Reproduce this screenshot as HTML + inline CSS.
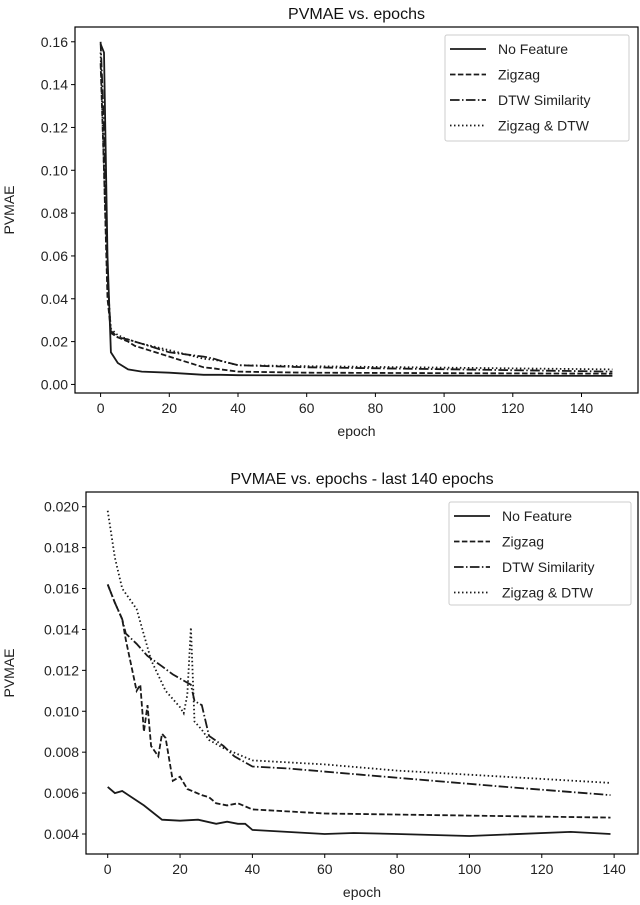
<!DOCTYPE html>
<html><head><meta charset="utf-8"><style>
body{margin:0;background:#fff;}
svg{display:block;font-family:"Liberation Sans","DejaVu Sans",sans-serif;}
</style></head><body>
<svg id="fig" width="640" height="905" viewBox="0 0 640 905" xmlns="http://www.w3.org/2000/svg"></svg>
<script>
// ---- Top chart data (all 150 epochs) ----
const topEpochs = [0,1,2,3,5,8,10,12,20,30,33,35,40,60,149];
const topNoFeature = [0.159,0.155,0.06,0.015,0.010,0.007,0.0065,0.006,0.0055,0.0045,0.0045,0.0045,0.0043,0.0042,0.0040];
const topZigzag = [0.150,0.100,0.040,0.025,0.022,0.020,0.018,0.017,0.013,0.008,0.0075,0.007,0.006,0.0055,0.005];
const topDTW = [0.160,0.120,0.050,0.024,0.022,0.021,0.020,0.019,0.015,0.013,0.012,0.011,0.009,0.008,0.006];
const topZigDTW = [0.155,0.100,0.045,0.026,0.023,0.021,0.020,0.019,0.016,0.012,0.0115,0.011,0.009,0.0085,0.007];
const topYTicks = ["0.00","0.02","0.04","0.06","0.08","0.10","0.12","0.14","0.16"];
const topXTicks = ["0","20","40","60","80","100","120","140"];

// ---- Bottom chart data (last 140 epochs) ----
const nfEpochs = [0,2,4,10,15,20,25,30,33,36,38,40,60,68,80,100,128,139];
const nfVals = [0.0063,0.0060,0.0061,0.0054,0.0047,0.00465,0.0047,0.0045,0.0046,0.0045,0.0045,0.0042,0.0040,0.00405,0.0040,0.0039,0.0041,0.0040];
const zzEpochs = [0,2,4,5,8,9,10,11,12,14,15,16,18,20,22,26,28,30,33,36,40,60,100,139];
const zzVals = [0.0162,0.0153,0.0145,0.0135,0.0110,0.0113,0.0090,0.0103,0.0083,0.0078,0.0089,0.0087,0.0066,0.0068,0.0062,0.0059,0.0058,0.0055,0.0054,0.0055,0.0052,0.0050,0.0049,0.0048];
const dtwEpochs = [0,2,4,5,8,11,15,18,21,23,24,26,28,32,35,40,50,70,90,110,139];
const dtwVals = [0.0162,0.0153,0.0145,0.0138,0.0133,0.0127,0.0122,0.0118,0.0115,0.0113,0.0105,0.0103,0.0088,0.0083,0.0078,0.0073,0.0072,0.0069,0.0066,0.0063,0.0059];
const zdEpochs = [0,2,4,8,12,16,20,21,22,23,24,26,28,32,40,60,80,100,139];
const zdVals = [0.0198,0.0175,0.0160,0.0150,0.0125,0.0110,0.0102,0.0099,0.0108,0.0141,0.0095,0.0091,0.0086,0.0082,0.0076,0.0074,0.0071,0.0069,0.0065];
const botYTicks = ["0.004","0.006","0.008","0.010","0.012","0.014","0.016","0.018","0.020"];
const botXTicks = ["0","20","40","60","80","100","120","140"];

const legendLabels = ["No Feature","Zigzag","DTW Similarity","Zigzag & DTW"];
const dashes = ["", "5.5,2.4", "9.6,2.4,1.5,2.4", "1.5,2.5"];
const NS = "http://www.w3.org/2000/svg";
const svg = document.getElementById('fig');
function mk(tag, attrs, parent){const e=document.createElementNS(NS,tag);for(const k in attrs)e.setAttribute(k,attrs[k]);(parent||svg).appendChild(e);return e;}

function chart(cfg){
  const g = mk('g',{});
  
  
  const X = v => cfg.L + (v - cfg.xmin)/(cfg.xmax-cfg.xmin)*(cfg.R-cfg.L);
  const Y = v => cfg.B - (v - cfg.ymin)/(cfg.ymax-cfg.ymin)*(cfg.B-cfg.T);
  const t = mk('text',{x:(cfg.L+cfg.R)/2,y:cfg.T-8,'text-anchor':'middle','font-size':'16',fill:'#111'},g);
  t.textContent = cfg.title;
  
  
  cfg.series.forEach((s,i)=>{
    const pts = s.x.map((xv,j)=>X(xv).toFixed(1)+','+Y(s.y[j]).toFixed(1)).join(' ');
    const p = mk('polyline',{points:pts,fill:'none',stroke:'#1a1a1a','stroke-width':'1.8','stroke-dasharray':dashes[i]||'none'},g);
    
    
  });
  mk('rect',{x:cfg.L,y:cfg.T,width:cfg.R-cfg.L,height:cfg.B-cfg.T,fill:'none',stroke:'#000','stroke-width':'1.2'},g);
  cfg.yticks.forEach(lbl=>{
    const v=parseFloat(lbl), y=Y(v);
    mk('line',{x1:cfg.L-4,x2:cfg.L,y1:y,y2:y,stroke:'#000'},g);
    const tt=mk('text',{x:cfg.L-7,y:y+5,'text-anchor':'end','font-size':'14',fill:'#222'},g);
    tt.textContent=lbl;
    
    
  });
  cfg.xticks.forEach(lbl=>{
    const v=parseFloat(lbl), x=X(v);
    mk('line',{x1:x,x2:x,y1:cfg.B,y2:cfg.B+4,stroke:'#000'},g);
    const tt=mk('text',{x:x,y:cfg.B+20,'text-anchor':'middle','font-size':'14',fill:'#222'},g);
    tt.textContent=lbl;
    
    
  });
  const xl=mk('text',{x:(cfg.L+cfg.R)/2,y:cfg.B+43,'text-anchor':'middle','font-size':'14',fill:'#222'},g);
  xl.textContent='epoch';
  
  
  const yl=mk('text',{x:0,y:0,'text-anchor':'middle','font-size':'14',fill:'#222',transform:'translate(14,'+((cfg.T+cfg.B)/2)+') rotate(-90)'},g);
  yl.textContent='PVMAE';
  
  
  const lg=mk('g',{},g);
  
  
  mk('rect',{x:cfg.lg[0],y:cfg.lg[1],width:cfg.lg[2],height:cfg.lg[3],rx:2,fill:'#fff',stroke:'#ccc'},lg);
  legendLabels.forEach((lbl,i)=>{
    const y=cfg.lg[1]+14+i*25.5;
    mk('line',{x1:cfg.lg[0]+5,x2:cfg.lg[0]+41,y1:y,y2:y,stroke:'#1a1a1a','stroke-width':'1.8','stroke-dasharray':dashes[i]||'none'},lg);
    const tt=mk('text',{x:cfg.lg[0]+53,y:y+5,'font-size':'14',fill:'#222'},lg);
    tt.textContent=lbl;
    
    
  });
}

chart({name:'top-chart',title:'PVMAE  vs. epochs',L:75,R:638,T:27,B:393,
  xmin:-7.45,xmax:156.45,ymin:-0.0040,ymax:0.1669,
  yticks:topYTicks,xticks:topXTicks,lg:[445,35,184,106],
  series:[{x:topEpochs,y:topNoFeature},{x:topEpochs,y:topZigzag},{x:topEpochs,y:topDTW},{x:topEpochs,y:topZigDTW}]});

chart({name:'bottom-chart',title:'PVMAE  vs. epochs - last 140 epochs',L:86,R:638,T:492,B:854,
  xmin:-6.0,xmax:146.6,ymin:0.004-0.002*(854-834)/40.9,ymax:0.020+0.002*(506.7-492)/40.9,
  yticks:botYTicks,xticks:botXTicks,lg:[449,502,182,103],
  series:[{x:nfEpochs,y:nfVals},{x:zzEpochs,y:zzVals},{x:dtwEpochs,y:dtwVals},{x:zdEpochs,y:zdVals}]});
</script>
</body></html>
